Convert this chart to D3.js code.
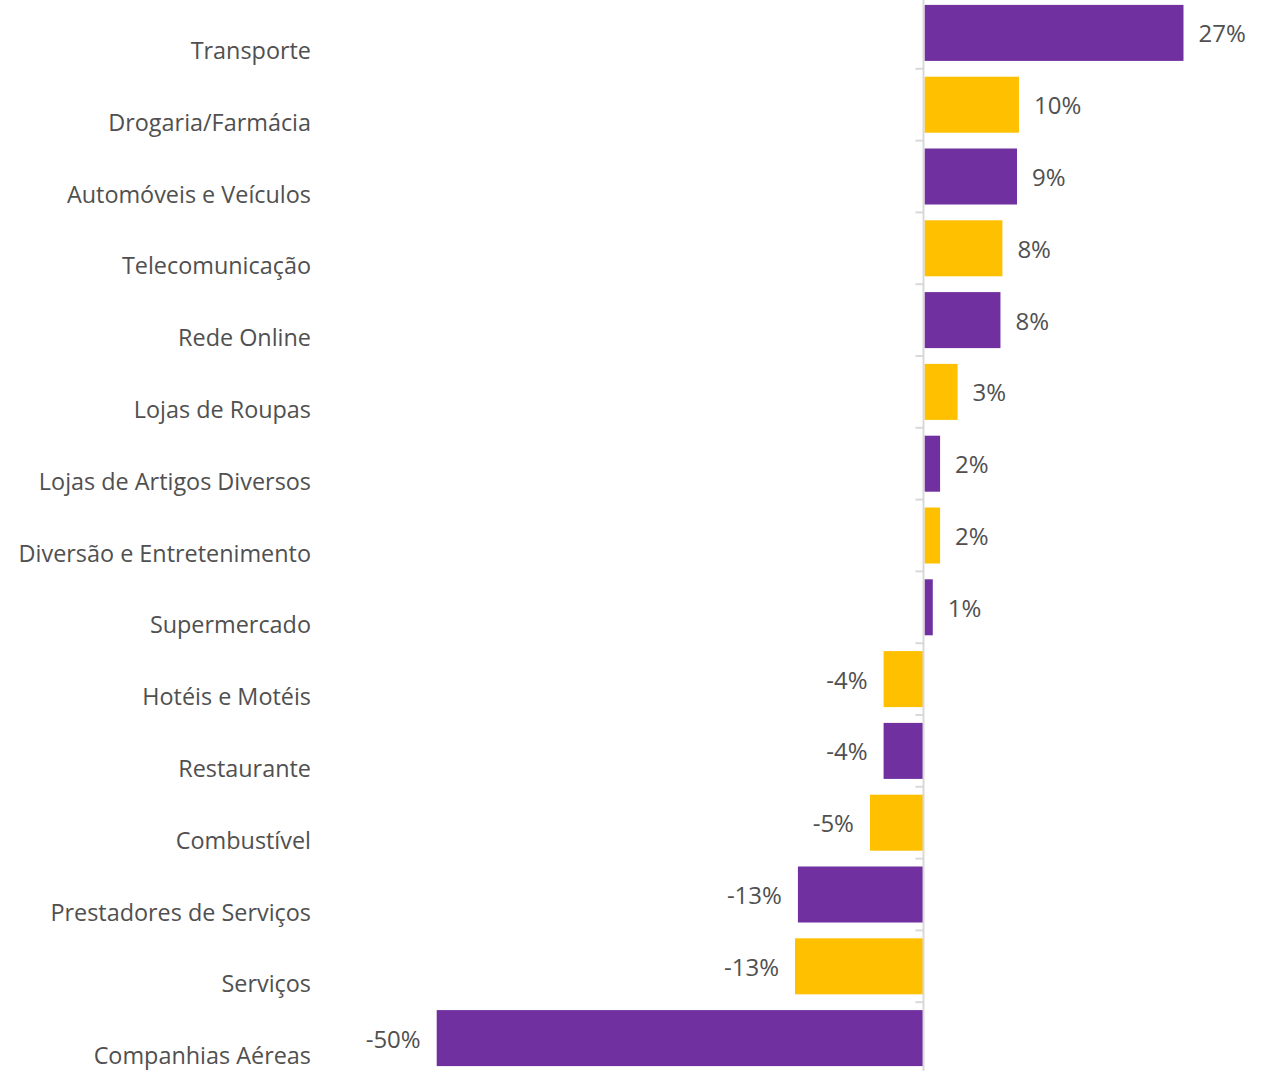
<!DOCTYPE html>
<html>
<head>
<meta charset="utf-8">
<script src="https://cdn.jsdelivr.net/npm/d3@7"></script>
<style>
  body { margin: 0; background: #fff; }
  text { font-family: "Open Sans", sans-serif; fill: #505050; }
</style>
</head>
<body>
<div id="viz"></div>
<script>
// data
const categories = ["Transporte", "Drogaria/Farmácia", "Automóveis e Veículos", "Telecomunicação",
  "Rede Online", "Lojas de Roupas", "Lojas de Artigos Diversos", "Diversão e Entretenimento",
  "Supermercado", "Hotéis e Motéis", "Restaurante", "Combustível", "Prestadores de Serviços",
  "Serviços", "Companhias Aéreas"];
const values = [26.6, 9.7, 9.5, 8.0, 7.8, 3.4, 1.6, 1.6, 0.85, -4.1, -4.1, -5.5, -12.9, -13.2, -50.0];
const labels = ["27%", "10%", "9%", "8%", "8%", "3%", "2%", "2%", "1%", "-4%", "-4%", "-5%", "-13%", "-13%", "-50%"];
const palette = ["#7030A0", "#FFC000"];

const outerWidth = 1276, outerHeight = 1071;

const svg = d3.select("#viz").append("svg")
    .attr("width", outerWidth)
    .attr("height", outerHeight);

// scales
const x = d3.scaleLinear().domain([-50, 30]).range([436.7, 1215.6]);
const pad = 0.22;
const y = d3.scaleBand().domain(categories).range([-3, 1074])
    .paddingInner(pad).paddingOuter(pad / 2);

const rows = categories.map((c, i) => ({ name: c, value: values[i], label: labels[i], i: i }));

// bars
svg.append("g").selectAll("rect")
  .data(rows).enter()
  .append("rect")
    .attr("x", d => x(Math.min(0, d.value)) + (d.value > 0 ? 1 : 0))
    .attr("y", d => y(d.name))
    .attr("width", d => Math.abs(x(d.value) - x(0)))
    .attr("height", y.bandwidth())
    .attr("fill", d => palette[d.i % 2]);

// vertical axis line + ticks between categories
const axis = svg.append("g");
axis.append("line")
    .attr("x1", x(0)).attr("x2", x(0))
    .attr("y1", 0).attr("y2", outerHeight)
    .attr("stroke", "#d9d9d9").attr("stroke-width", 2);
const gap = y.step() * pad / 2;
axis.selectAll(".tick")
  .data(categories.slice(1)).enter()
  .append("line")
    .attr("x1", x(0) - 8).attr("x2", x(0))
    .attr("y1", d => y(d) - gap).attr("y2", d => y(d) - gap)
    .attr("stroke", "#d9d9d9").attr("stroke-width", 2);

// category labels (sit a bit below the bar centre, as in the original)
svg.append("g").selectAll("text")
  .data(rows).enter()
  .append("text")
    .attr("x", 311)
    .attr("y", d => y(d.name) + y.bandwidth() / 2 + 18)
    .attr("dy", "0.35em")
    .attr("text-anchor", "end")
    .style("font-size", "23.4px")
    .text(d => d.name);

// value labels
svg.append("g").selectAll("text")
  .data(rows).enter()
  .append("text")
    .attr("x", d => d.value >= 0 ? x(d.value) + 16 : x(d.value) - 16)
    .attr("y", d => y(d.name) + y.bandwidth() / 2 + 1)
    .attr("dy", "0.35em")
    .attr("text-anchor", d => d.value >= 0 ? "start" : "end")
    .style("font-size", "24px")
    .text(d => d.label);
</script>
</body>
</html>
